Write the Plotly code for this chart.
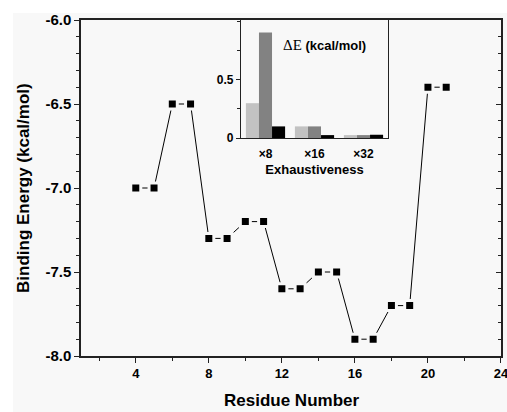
import plotly.graph_objects as go

# Main chart data
residues = [4, 5, 6, 7, 8, 9, 10, 11, 12, 13, 14, 15, 16, 17, 18, 19, 20, 21]
energy = [-7.0, -7.0, -6.5, -6.5, -7.3, -7.3, -7.2, -7.2, -7.6, -7.6,
          -7.5, -7.5, -7.9, -7.9, -7.7, -7.7, -6.4, -6.4]
x_tickvals = [4, 8, 12, 16, 20, 24]
y_tickvals = [-8.0, -7.5, -7.0, -6.5, -6.0]
y_ticktext = ["-8.0", "-7.5", "-7.0", "-6.5", "-6.0"]

# Inset data
exh_labels = ["×8", "×16", "×32"]
dE_light = [0.30, 0.10, 0.025]
dE_dark = [0.91, 0.10, 0.025]
dE_black = [0.10, 0.025, 0.028]
inset_tickvals = [0, 0.5]
inset_ticktext = ["0", "0.5"]

BG = "#f8f8f8"
AX = "#222222"
FONT = "Liberation Sans, Arial, sans-serif"

fig = go.Figure()

fig.add_trace(go.Scatter(
    x=residues, y=energy, mode="lines+markers",
    line=dict(color="black", width=1),
    marker=dict(symbol="square", size=10, color="black",
                line=dict(color=BG, width=3)),
    showlegend=False, hoverinfo="skip", xaxis="x", yaxis="y"))

# invisible trace to host the right-side mirror axis
fig.add_trace(go.Scatter(
    x=residues, y=energy, mode="markers", marker=dict(opacity=0),
    showlegend=False, hoverinfo="skip", xaxis="x", yaxis="y3"))

for vals, col in [(dE_light, "#c2c2c2"), (dE_dark, "#828282"), (dE_black, "#000000")]:
    fig.add_trace(go.Bar(x=exh_labels, y=vals, marker=dict(color=col, line=dict(width=0)),
                         showlegend=False, hoverinfo="skip", xaxis="x2", yaxis="y2"))

W, H = 507, 412
L, R, T, B = 81, 6, 20, 56
pw, ph = W - L - R, H - T - B

def px_x(p):
    return (p - L) / pw

def px_y(p):
    return (H - B - p) / ph

tickfont = dict(family=FONT, size=13, color="black", weight="bold")

fig.update_layout(
    width=W, height=H,
    margin=dict(l=L, r=R, t=T, b=B, autoexpand=False),
    paper_bgcolor="white", plot_bgcolor=BG,
    barmode="group", bargap=0.2, bargroupgap=0,
    font=dict(family=FONT, color="black"),
    xaxis=dict(range=[1, 24.001], tickmode="array", tickvals=x_tickvals,
               ticks="outside", ticklen=5, ticklabeloverflow="allow",
               automargin=False,
               tickwidth=1.2, tickcolor=AX, showline=True, linecolor=AX,
               linewidth=1.5, mirror=True, showgrid=False, zeroline=False,
               tickfont=tickfont,
               minor=dict(tick0=0, dtick=2, ticks="outside", ticklen=3,
                          tickcolor=AX, tickwidth=1.2, showgrid=False)),
    yaxis=dict(range=[-8.0, -6.0], tickmode="array", tickvals=y_tickvals,
               ticktext=y_ticktext, ticklabeloverflow="allow", automargin=False,
               ticks="outside", ticklen=5, tickwidth=1.2, tickcolor=AX,
               showline=True, linecolor=AX, linewidth=1.5, showgrid=False,
               zeroline=False, tickfont=dict(family=FONT, size=15, color="black", weight="bold"),
               minor=dict(tick0=-8, dtick=0.1, ticks="outside", ticklen=3,
                          tickcolor=AX, tickwidth=1.2, showgrid=False)),
    yaxis3=dict(range=[-8.0, -6.0], overlaying="y", side="right", anchor="x",
                tick0=-8, dtick=0.5, ticks="inside", ticklen=5, tickwidth=1.2,
                tickcolor=AX, showline=True, linecolor=AX, linewidth=1.5,
                showticklabels=False, showgrid=False, zeroline=False,
                automargin=False,
                minor=dict(tick0=-8, dtick=0.1, ticks="inside", ticklen=3,
                           tickcolor=AX, tickwidth=1.2, showgrid=False)),
    xaxis2=dict(domain=[px_x(241), px_x(388)], anchor="y2", type="category",
                range=[-0.5, 2.5], ticks="", showline=True, linecolor=AX,
                linewidth=1.3, showgrid=False, zeroline=False,
                ticklabelstandoff=4, automargin=False,
                tickfont=dict(family=FONT, size=12, color="black", weight="bold"),
                title=dict(text="Exhaustiveness", standoff=5,
                           font=dict(family=FONT, size=13, color="black", weight="bold"))),
    yaxis2=dict(domain=[px_y(138), 1.0], anchor="x2", range=[0, 1.017],
                tickmode="array", tickvals=inset_tickvals, ticktext=inset_ticktext,
                ticks="outside", ticklen=4, tickwidth=1.2, automargin=False,
                tickcolor=AX, showline=True, linecolor=AX, linewidth=1.3,
                mirror=True, showgrid=False, zeroline=False,
                tickfont=dict(family=FONT, size=12, color="black", weight="bold"),
                minor=dict(tick0=0, dtick=0.25, ticks="outside", ticklen=3,
                           tickcolor=AX, tickwidth=1.2, showgrid=False)),
    shapes=[dict(type="rect", xref="paper", yref="paper", layer="below",
                 x0=px_x(13), x1=px_x(W + 5), y0=px_y(H + 5), y1=px_y(13),
                 fillcolor=BG, line=dict(width=0))],
    annotations=[
        dict(text="Residue Number", xref="paper", yref="paper",
             x=px_x(291), y=px_y(400), xanchor="center", yanchor="middle",
             showarrow=False,
             font=dict(family=FONT, size=17, color="black", weight="bold")),
        dict(text="Binding Energy (kcal/mol)", xref="paper", yref="paper",
             x=px_x(23), y=px_y(188), xanchor="center", yanchor="middle",
             textangle=-90, showarrow=False,
             font=dict(family=FONT, size=17, color="black", weight="bold")),
        dict(text="<span style='font-family:Liberation Serif;font-weight:normal;font-size:15px'>ΔE</span> (kcal/mol)",
             xref="paper", yref="paper", x=px_x(281), y=px_y(45),
             xanchor="left", yanchor="middle", showarrow=False,
             font=dict(family=FONT, size=13, color="black", weight="bold")),
    ],
)

fig.write_html("out.html")
